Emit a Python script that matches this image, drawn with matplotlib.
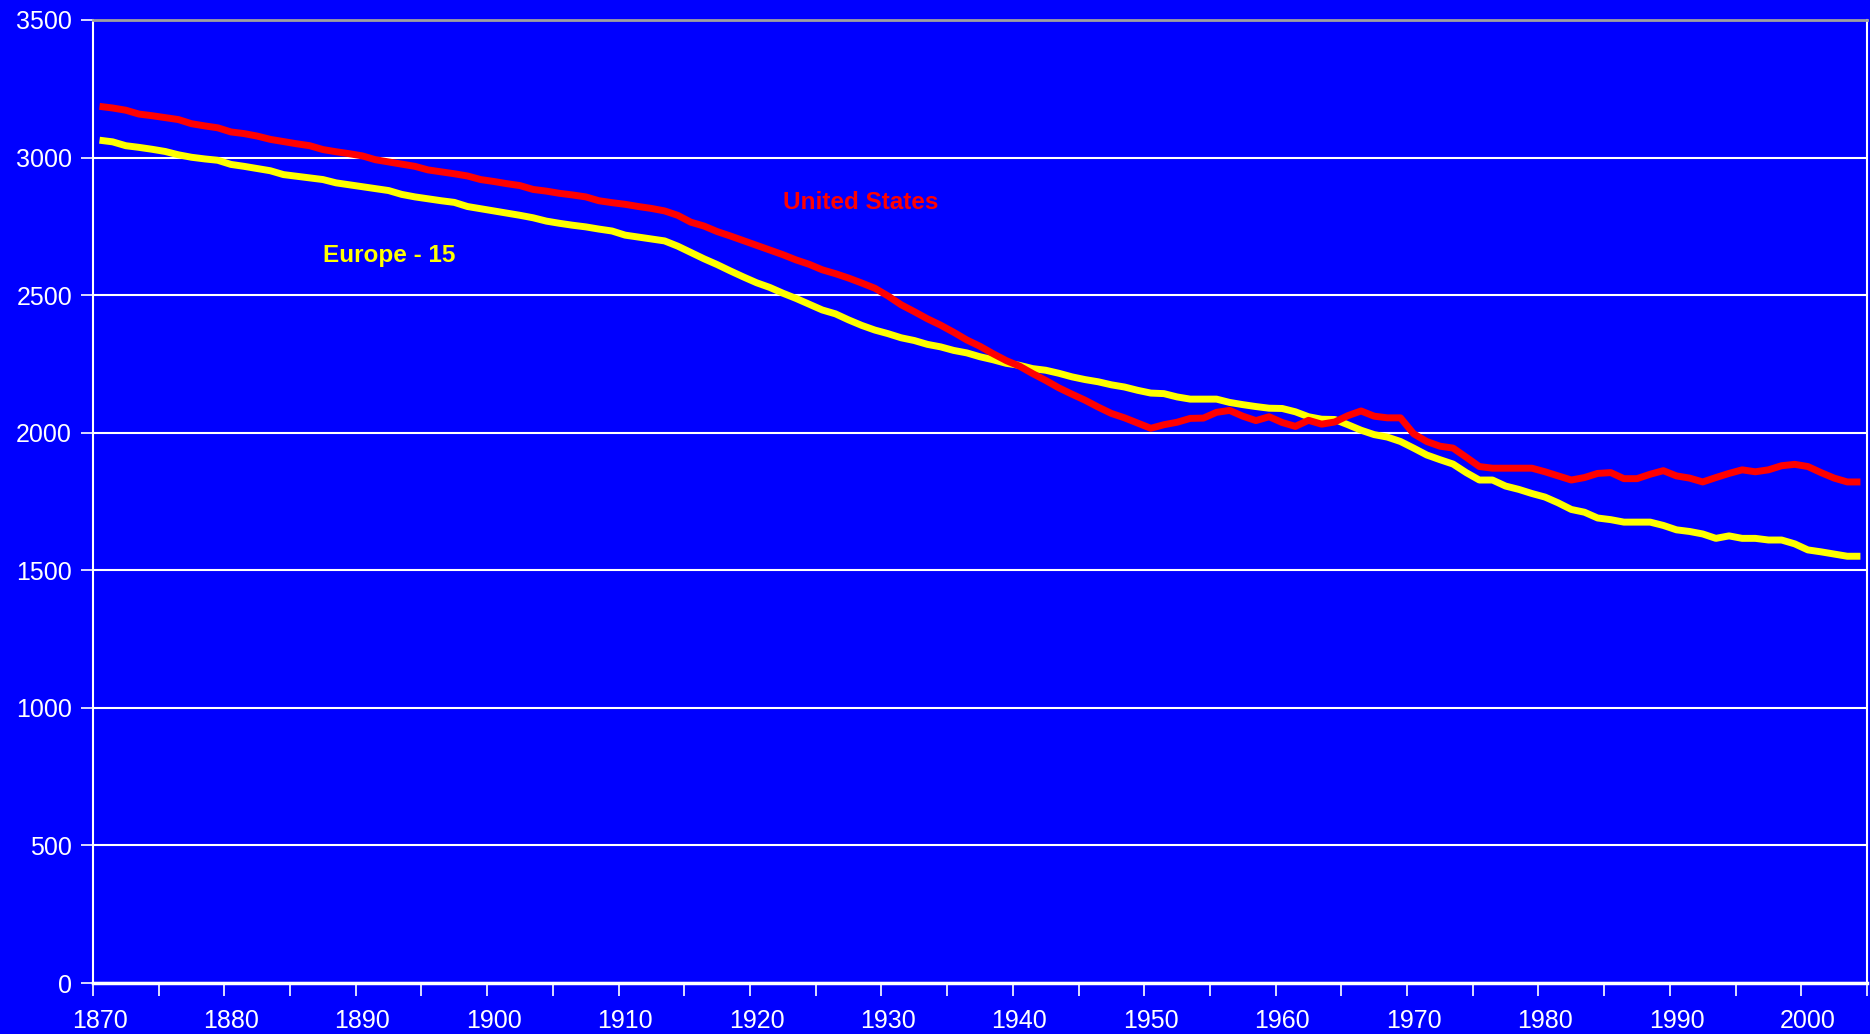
import numpy as np
import matplotlib.pyplot as plt

# annual hours worked per person, 1870-2004
us_hours = [3186, 3180, 3172, 3158, 3152, 3145, 3138, 3123, 3115, 3108,
            3093, 3087, 3078, 3066, 3058, 3050, 3043, 3029, 3021, 3014,
            3006, 2992, 2984, 2976, 2968, 2955, 2948, 2941, 2933, 2920,
            2913, 2905, 2898, 2884, 2878, 2870, 2864, 2857, 2843, 2836,
            2830, 2822, 2815, 2806, 2790, 2765, 2751, 2731, 2715, 2698,
            2681, 2664, 2647, 2628, 2612, 2592, 2578, 2562, 2544, 2525,
            2497, 2465, 2440, 2414, 2391, 2365, 2337, 2314, 2287, 2262,
            2242, 2215, 2190, 2163, 2140, 2118, 2093, 2070, 2054, 2035,
            2016, 2029, 2038, 2052, 2053, 2074, 2081, 2060, 2044, 2058,
            2037, 2023, 2045, 2031, 2039, 2062, 2079, 2060, 2054, 2054,
            1996, 1968, 1951, 1944, 1911, 1877, 1871, 1871, 1871, 1871,
            1858, 1843, 1828, 1837, 1852, 1855, 1833, 1833, 1849, 1862,
            1843, 1835, 1821, 1837, 1852, 1865, 1858, 1865, 1880, 1885,
            1877, 1855, 1835, 1821, 1821]

eu_hours = [3063, 3057, 3043, 3037, 3030, 3022, 3010, 3001, 2995, 2990,
            2975, 2968, 2960, 2952, 2938, 2932, 2926, 2920, 2908, 2901,
            2894, 2887, 2880, 2866, 2857, 2850, 2843, 2837, 2822, 2814,
            2806, 2798, 2790, 2781, 2769, 2761, 2754, 2748, 2740, 2733,
            2718, 2711, 2704, 2697, 2678, 2655, 2632, 2611, 2588, 2566,
            2545, 2528, 2507, 2488, 2467, 2446, 2432, 2410, 2390, 2373,
            2360, 2345, 2335, 2321, 2312, 2299, 2290, 2276, 2265, 2252,
            2245, 2233, 2227, 2216, 2203, 2193, 2185, 2174, 2166, 2154,
            2144, 2142, 2130, 2122, 2122, 2122, 2110, 2102, 2095, 2089,
            2088, 2076, 2058, 2049, 2048, 2029, 2009, 1993, 1984, 1968,
            1944, 1919, 1902, 1886, 1855, 1828, 1828, 1806, 1794, 1779,
            1766, 1745, 1721, 1711, 1690, 1684, 1675, 1675, 1675, 1663,
            1647, 1641, 1632, 1616, 1625, 1616, 1616, 1610, 1610, 1596,
            1574, 1567, 1559, 1551, 1551]

years = np.arange(1870, 1870 + len(us_hours))
label_years = list(range(1870, 2001, 10))
y_ticks = list(range(0, 3501, 500))

plt.rcParams['font.family'] = ['Liberation Sans Narrow', 'Liberation Sans', 'DejaVu Sans']

bg = '#0000FF'
fig = plt.figure(figsize=(18.7, 10.34), dpi=100, facecolor=bg)
ax = fig.add_axes([0.0497, 0.0493, 0.9487, 0.9314], facecolor=bg)

ax.plot(years, eu_hours, color='#FFFF00', lw=5, solid_capstyle='butt', zorder=3)
ax.plot(years, us_hours, color='#FF0000', lw=5, solid_capstyle='butt', zorder=4)

ax.set_xlim(years[0] - 0.5, years[-1] + 0.5)
ax.set_ylim(0, 3500)

# category-style x axis: ticks on boundaries every 5 years, labels on the years
ax.set_xticks(np.arange(years[0] - 0.5, years[-1] + 1, 5))
ax.set_xticklabels([])
ax.tick_params(axis='x', which='major', direction='out', length=9, width=1.2, color='white')
ax.set_xticks(label_years, minor=True)
ax.set_xticklabels([str(y) for y in label_years], minor=True)
ax.tick_params(axis='x', which='minor', length=0, pad=19, labelsize=18, labelcolor='white')

ax.set_yticks(y_ticks)
ax.set_yticklabels([str(v) for v in y_ticks])
ax.tick_params(axis='y', direction='out', length=9, width=1.2, color='white',
               labelsize=18, labelcolor='white', pad=6)

ax.grid(axis='y', color='white', lw=1.5, zorder=1)
ax.set_axisbelow(True)
for side in ['left', 'bottom', 'right']:
    ax.spines[side].set_color('white')
    ax.spines[side].set_linewidth(1.5)
ax.spines['bottom'].set_linewidth(2.5)
ax.spines['top'].set_color('#A0A0A0')
ax.spines['top'].set_linewidth(2)

ax.text(1922, 2835, 'United States', color='#FF0000', fontsize=17.5, fontweight='bold',
        va='center', ha='left')
ax.text(1887, 2644, 'Europe - 15', color='#FFFF00', fontsize=17.5, fontweight='bold',
        va='center', ha='left')

fig.savefig('out.png', dpi=100, facecolor=bg)
